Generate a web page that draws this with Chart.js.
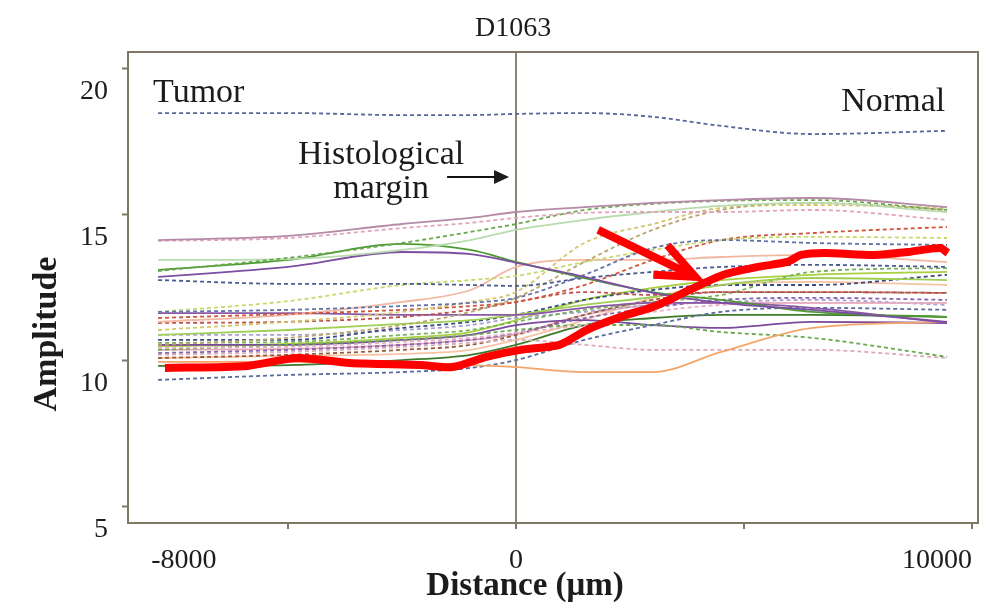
<!DOCTYPE html>
<html>
<head>
<meta charset="utf-8">
<title>D1063</title>
<script src="https://cdn.jsdelivr.net/npm/chart.js@4.4.1/dist/chart.umd.min.js"></script>
<style>
  html, body { margin: 0; padding: 0; background: #fff; }
  #wrap { width: 995px; height: 610px; position: relative; }
</style>
</head>
<body>
<div id="wrap"><canvas id="marginChart"></canvas></div>
<script>
// distance from the histological margin (um), shared by all traces
const distance = [-7850, -5000, -2500, -1000, 0, 1500, 3000, 4500, 6500, 9450];

// amplitude traces
const navyTop     = [18.49, 18.49, 18.42, 18.42, 18.46, 18.49, 18.36, 18.05, 17.77, 17.88];
const mauve       = [14.14, 14.28, 14.69, 14.90, 15.10, 15.27, 15.41, 15.51, 15.58, 15.27];
const pinkDot     = [14.11, 14.21, 14.55, 14.73, 14.90, 15.07, 15.10, 15.10, 15.17, 14.83];
const greenDot    = [13.08, 13.53, 14.04, 14.42, 14.69, 15.17, 15.38, 15.48, 15.51, 15.17];
const paleGreen   = [13.46, 13.49, 13.80, 14.14, 14.49, 14.83, 15.10, 15.31, 15.41, 15.10];
const purpleArc   = [12.88, 13.22, 13.73, 13.66, 13.36, 12.88, 12.33, 11.99, 11.75, 11.34];
const greenArc    = [13.12, 13.46, 14.01, 13.80, 13.39, 12.84, 12.36, 12.09, 11.68, 11.51];
const navyDot     = [12.77, 12.64, 12.64, 12.60, 12.57, 12.84, 13.05, 13.22, 13.29, 13.22];
const blueRise    = [11.68, 11.75, 11.88, 11.99, 12.16, 12.95, 13.87, 14.14, 14.04, 13.97];
const tanDot      = [10.55, 10.79, 11.23, 11.68, 12.16, 13.39, 14.49, 15.17, 15.41, 15.17];
const yellowDot   = [11.06, 11.34, 11.68, 12.02, 12.36, 14.04, 14.69, 15.24, 15.34, 15.24];
const limeDot     = [11.68, 12.05, 12.60, 12.77, 12.91, 13.39, 13.80, 14.14, 14.25, 14.21];
const orangeDot   = [11.47, 11.61, 11.75, 11.88, 12.02, 12.60, 13.46, 14.14, 14.38, 14.59];
const salmon      = [11.34, 11.58, 12.02, 12.43, 13.22, 13.46, 13.46, 13.56, 13.63, 13.39];
const redDot      = [11.30, 11.34, 11.51, 11.75, 12.02, 12.36, 12.26, 12.36, 12.36, 12.33];
const purpleFlat  = [11.64, 11.64, 11.58, 11.58, 11.58, 11.82, 11.99, 11.99, 11.82, 11.30];
const lightGreen  = [10.89, 11.06, 11.27, 11.40, 11.58, 11.92, 12.19, 12.60, 12.84, 12.77];
const darkNavyDot = [10.72, 10.72, 11.13, 11.34, 11.58, 12.09, 12.43, 12.60, 12.60, 12.95];
const greenDot2   = [10.62, 10.65, 10.89, 11.06, 11.34, 11.75, 12.02, 12.26, 13.05, 13.18];
const pinkDot2    = [10.45, 10.48, 10.65, 10.79, 10.96, 11.23, 11.68, 11.92, 11.99, 11.99];
const purpleDot   = [10.27, 10.38, 10.55, 10.72, 10.96, 11.47, 11.82, 12.09, 12.16, 12.09];
const orange      = [9.97, 9.97, 9.93, 9.86, 9.79, 9.62, 9.62, 10.31, 11.13, 11.34];
const navyLow     = [9.35, 9.52, 9.62, 9.76, 10.03, 10.72, 11.23, 11.68, 11.82, 11.75];
const greenFall   = [10.38, 10.55, 10.72, 10.89, 11.06, 11.23, 11.23, 10.99, 10.79, 10.14];
const pinkFall    = [10.21, 10.31, 10.48, 10.62, 10.72, 10.55, 10.38, 10.38, 10.38, 10.10];
const darkGreen   = [9.83, 9.86, 10.03, 10.21, 10.55, 11.23, 11.47, 11.58, 11.58, 11.51];
const purpleLow   = [10.55, 10.55, 10.72, 10.89, 11.23, 11.40, 11.23, 11.13, 11.34, 11.30];
const brownDot    = [10.10, 10.21, 10.38, 10.55, 10.89, 11.58, 12.09, 12.36, 12.36, 12.33];
const lavenderDot = [10.89, 10.89, 11.06, 11.23, 11.47, 11.68, 11.92, 12.02, 12.09, 11.92];
const peach       = [10.10, 10.17, 10.24, 10.38, 10.72, 11.40, 12.16, 12.60, 12.71, 12.60];
const lime        = [10.51, 10.58, 10.79, 10.99, 11.40, 12.09, 12.50, 12.77, 12.95, 13.05];
const pink        = [10.38, 10.41, 10.55, 10.72, 10.92, 11.58, 11.92, 11.99, 11.99, 11.99];

// highlighted trace (thick red)
const highlightX = [-7700, -5900, -4800, -3650, -2100, -1400, -650, 100, 950, 1550, 2300, 3000,
                    3450, 3800, 4550, 5300, 5950, 6250, 6750, 7850, 8600, 9300, 9470];
const highlight  = [9.76, 9.83, 10.10, 9.93, 9.86, 9.79, 10.14, 10.38, 10.55, 11.06, 11.51, 11.85,
                    12.16, 12.43, 12.95, 13.22, 13.39, 13.63, 13.70, 13.63, 13.73, 13.87, 13.70];

const xTicks = [-8000, -5000, 0, 5000, 10000];
const xLabels = ["-8000", "", "0", "", "10000"];
const yTicks = [5, 10, 15, 20];

const serif = '"Liberation Serif", "Times New Roman", serif';
const ink = "#1c1c1c";
const frameColor = "#7f7867";

const dotted = [4, 3];
const solid = [];

const traces = [
  [navyTop, "#56659a", dotted],
  [mauve, "#b58aa6", solid],
  [pinkDot, "#e2a3bb", dotted],
  [greenDot, "#6aa84f", dotted],
  [paleGreen, "#b9dcae", solid],
  [purpleArc, "#7d4ea3", solid],
  [greenArc, "#4e9a33", solid],
  [navyDot, "#4b5c93", dotted],
  [blueRise, "#6272a8", dotted],
  [tanDot, "#b9a56a", dotted],
  [yellowDot, "#d3c56a", dotted],
  [limeDot, "#c6d96b", dotted],
  [orangeDot, "#d0553a", dotted],
  [salmon, "#f2b8a2", solid],
  [redDot, "#c0504d", dotted],
  [purpleFlat, "#8a5aa8", solid],
  [lightGreen, "#9fcf55", solid],
  [darkNavyDot, "#3c4a84", dotted],
  [greenDot2, "#79b25a", dotted],
  [pinkDot2, "#e8b0c4", dotted],
  [purpleDot, "#8664b0", dotted],
  [orange, "#f4a66a", solid],
  [navyLow, "#5b6ba0", dotted],
  [greenFall, "#6aa84f", dotted],
  [pinkFall, "#dcaab8", dotted],
  [darkGreen, "#3d7a2a", solid],
  [purpleLow, "#7a4a9e", solid],
  [brownDot, "#9a5a3a", dotted],
  [lavenderDot, "#a8a0d0", dotted],
  [peach, "#f6c4a4", solid],
  [lime, "#a8d040", solid],
  [pink, "#e6a8b8", solid]
];

const datasets = traces.map(([vals, color, dash]) => ({
  data: vals.map((v, i) => ({ x: distance[i], y: v })),
  borderColor: color,
  borderWidth: 1.8,
  borderDash: dash,
  cubicInterpolationMode: "monotone",
  pointRadius: 0,
  order: 1
}));

datasets.push({
  data: highlight.map((v, i) => ({ x: highlightX[i], y: v })),
  borderColor: "#ff0000",
  borderWidth: 8,
  tension: 0.25,
  borderCapStyle: "butt",
  borderJoinStyle: "round",
  pointRadius: 0,
  order: 0
});

// text notes and arrows, placed in data units
const notes = [
  { text: "Tumor", x: -7960, y: 18.87, align: "left" },
  { text: "Normal", x: 9410, y: 18.56, align: "right" },
  { text: "Histological", x: -2960, y: 16.75, align: "center" },
  { text: "margin", x: -2960, y: 15.58, align: "center" }
];
const marginArrow = { x0: -1513, x1: -154, y: 16.30 };
const redArrow = { x0: 1800, y0: 14.49, x1: 3930, y1: 12.88 };

const decorations = {
  id: "decorations",
  afterDraw(chart) {
    const { ctx, chartArea: a, scales: { x, y } } = chart;
    ctx.save();

    // top and right sides of the frame
    ctx.strokeStyle = frameColor;
    ctx.lineWidth = 2;
    ctx.beginPath();
    ctx.moveTo(a.left, a.top);
    ctx.lineTo(a.right, a.top);
    ctx.lineTo(a.right, a.bottom);
    ctx.stroke();

    ctx.fillStyle = ink;
    ctx.textBaseline = "alphabetic";

    // title over the zero line
    ctx.font = "28px " + serif;
    ctx.textAlign = "center";
    ctx.fillText("D1063", x.getPixelForValue(0) - 3, 36);

    // notes inside the plot
    ctx.font = "34px " + serif;
    notes.forEach(n => {
      ctx.textAlign = n.align;
      ctx.fillText(n.text, x.getPixelForValue(n.x), y.getPixelForValue(n.y));
    });

    // black arrow pointing at the margin
    const ay = y.getPixelForValue(marginArrow.y);
    const ax0 = x.getPixelForValue(marginArrow.x0);
    const ax1 = x.getPixelForValue(marginArrow.x1);
    ctx.strokeStyle = "#111";
    ctx.lineWidth = 2;
    ctx.beginPath();
    ctx.moveTo(ax0, ay);
    ctx.lineTo(ax1 - 12, ay);
    ctx.stroke();
    ctx.beginPath();
    ctx.moveTo(ax1, ay);
    ctx.lineTo(ax1 - 15, ay - 7);
    ctx.lineTo(ax1 - 15, ay + 7);
    ctx.closePath();
    ctx.fill();

    // red arrow pointing at the highlighted trace
    const tx = x.getPixelForValue(redArrow.x0), ty = y.getPixelForValue(redArrow.y0);
    const hx = x.getPixelForValue(redArrow.x1), hy = y.getPixelForValue(redArrow.y1);
    const back = Math.atan2(ty - hy, tx - hx);
    const spread = 0.4, barb = 42;
    ctx.strokeStyle = "#ff0000";
    ctx.lineWidth = 8;
    ctx.lineCap = "butt";
    ctx.lineJoin = "miter";
    ctx.beginPath();
    ctx.moveTo(tx, ty);
    ctx.lineTo(hx, hy);
    ctx.stroke();
    ctx.beginPath();
    ctx.moveTo(hx + barb * Math.cos(back + spread), hy + barb * Math.sin(back + spread));
    ctx.lineTo(hx, hy);
    ctx.lineTo(hx + barb * Math.cos(back - spread), hy + barb * Math.sin(back - spread));
    ctx.stroke();

    // axis titles
    ctx.fillStyle = ink;
    ctx.font = "bold 33px " + serif;
    ctx.textAlign = "center";
    ctx.fillText("Distance (\u03bcm)", 525, 595);
    ctx.translate(47, 334);
    ctx.rotate(-Math.PI / 2);
    ctx.font = "bold 34px " + serif;
    ctx.textBaseline = "middle";
    ctx.fillText("Amplitude", 0, 0);

    ctx.restore();
  }
};

new Chart(document.getElementById("marginChart"), {
  type: "line",
  data: { datasets },
  options: {
    responsive: true,
    maintainAspectRatio: false,
    animation: false,
    devicePixelRatio: 1,
    layout: { padding: { top: 52, right: 17, left: 0, bottom: 0 } },
    plugins: { legend: { display: false }, tooltip: { enabled: false } },
    scales: {
      x: {
        type: "linear",
        min: -8510,
        max: 10130,
        afterFit: s => { s.height = 87; },
        afterBuildTicks: s => { s.ticks = xTicks.map(v => ({ value: v })); },
        ticks: {
          callback: (v, i) => xLabels[i],
          align: "inner",
          autoSkip: false,
          maxRotation: 0,
          padding: 15,
          color: ink,
          font: { family: serif, size: 28 }
        },
        grid: {
          drawOnChartArea: true,
          drawTicks: true,
          tickLength: 6,
          lineWidth: 2,
          color: c => (c.tick && c.tick.value === 0 ? "#8c8575" : "rgba(0,0,0,0)"),
          tickColor: c => (c.tick && c.tick.value === -8000 ? "rgba(0,0,0,0)" : frameColor),
          tickWidth: 2
        },
        border: { display: true, color: frameColor, width: 2 }
      },
      y: {
        type: "linear",
        min: 4.45,
        max: 20.58,
        afterFit: s => { s.width = 128; },
        afterBuildTicks: s => { s.ticks = yTicks.map(v => ({ value: v })); },
        ticks: {
          labelOffset: 23,
          padding: 14,
          color: ink,
          font: { family: serif, size: 28 }
        },
        grid: {
          drawOnChartArea: false,
          drawTicks: true,
          tickLength: 6,
          tickColor: frameColor,
          tickWidth: 2
        },
        border: { display: true, color: frameColor, width: 2 }
      }
    }
  },
  plugins: [decorations]
});
</script>
</body>
</html>
